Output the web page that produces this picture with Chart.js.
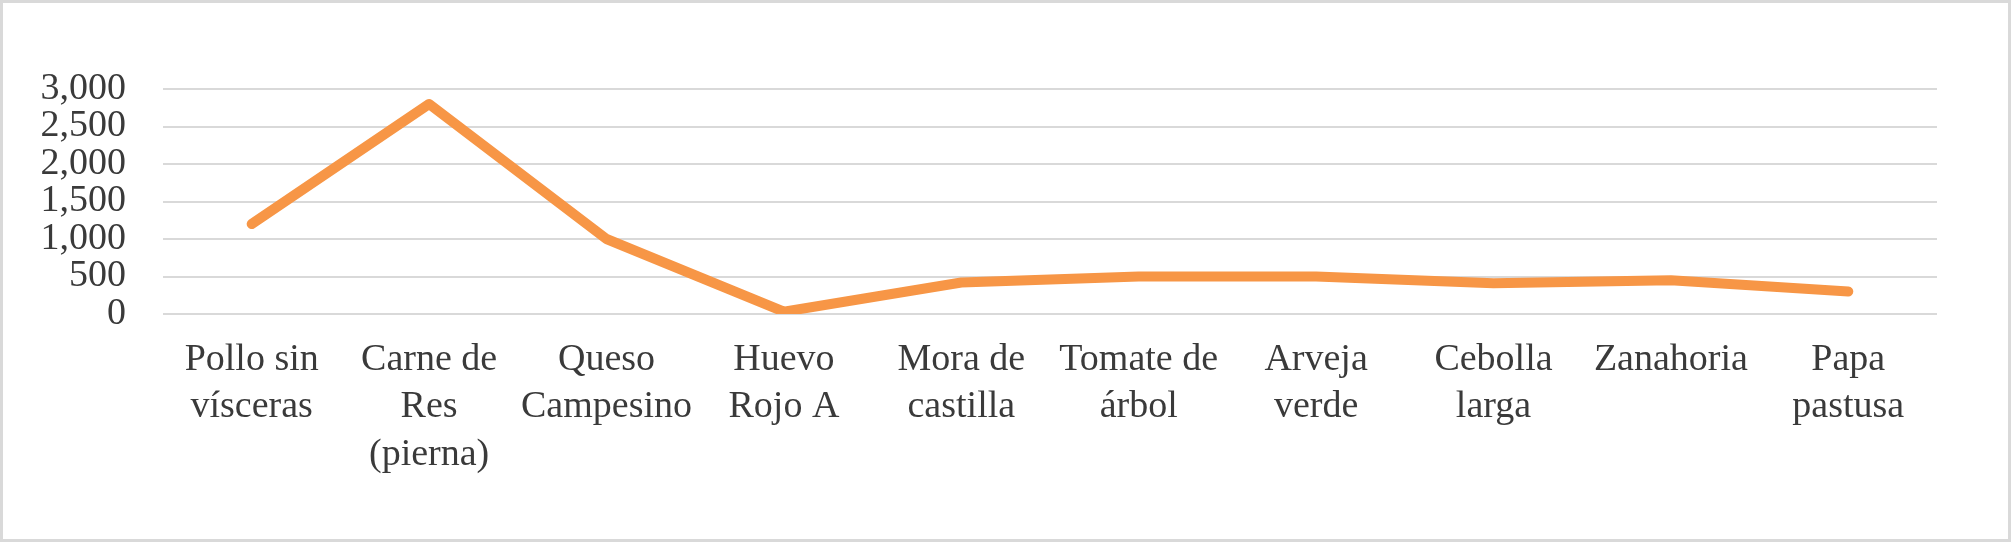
<!DOCTYPE html>
<html>
<head>
<meta charset="utf-8">
<script src="https://cdn.jsdelivr.net/npm/chart.js@4.4.1/dist/chart.umd.min.js"></script>
<style>
    html, body { margin: 0; padding: 0; background: #ffffff; }
    #frame {
        width: 2011px;
        height: 542px;
        box-sizing: border-box;
        border: 3px solid #d9d9d9;
        background: #ffffff;
    }
    #priceChart { display: block; }
</style>
</head>
<body>
<div id="frame">
    <canvas id="priceChart" width="2005" height="536"></canvas>
</div>
<script>
/** --------------------CHART DATA-------------------- */

const productLabels = [
    ['Pollo sin', 'vísceras'],
    ['Carne de', 'Res', '(pierna)'],
    ['Queso', 'Campesino'],
    ['Huevo', 'Rojo A'],
    ['Mora de', 'castilla'],
    ['Tomate de', 'árbol'],
    ['Arveja', 'verde'],
    ['Cebolla', 'larga'],
    'Zanahoria',
    ['Papa', 'pastusa']
];
const productValues = [1200, 2800, 1000, 30, 420, 500, 500, 410, 450, 300];
const yTicks = [0, 500, 1000, 1500, 2000, 2500, 3000];

/** --------------------DRAW CHART-------------------- */

const labelFont = {
    family: '"Liberation Serif", "Times New Roman", serif',
    size: 38,
    lineHeight: 1.25
};

const ctx = document.getElementById('priceChart').getContext('2d');
let lineChart = new Chart(ctx, {
    type: 'line',
    data: {
        labels: productLabels,
        datasets: [{
            label: 'Precio',
            data: productValues,
            borderColor: '#F79646',
            borderWidth: 10,
            borderCapStyle: 'round',
            borderJoinStyle: 'round',
            pointRadius: 0,
            pointHoverRadius: 0,
            tension: 0,
            fill: false
        }]
    },
    options: {
        responsive: false,
        animation: false,
        events: [],
        layout: {
            padding: {top: 86, right: 71, bottom: 0, left: 0}
        },
        plugins: {
            legend: {display: false},
            tooltip: {enabled: false}
        },
        scales: {
            x: {
                offset: true,
                grid: {display: false, drawTicks: false},
                border: {display: false},
                ticks: {
                    color: '#3a3a3a',
                    font: labelFont,
                    padding: 22,
                    maxRotation: 0,
                    autoSkip: false
                },
                afterFit: function (scale) {
                    scale.height = 225;
                }
            },
            y: {
                min: yTicks[0],
                max: yTicks[yTicks.length - 1],
                afterBuildTicks: function (scale) {
                    scale.ticks = yTicks.map(v => ({value: v}));
                },
                grid: {color: '#d9d9d9', lineWidth: 2, drawTicks: false},
                border: {display: false},
                ticks: {
                    color: '#3a3a3a',
                    font: labelFont,
                    padding: 37,
                    autoSkip: false,
                    callback: v => v.toLocaleString('en-US')
                },
                afterFit: function (scale) {
                    scale.width = 160;
                }
            }
        }
    }
});
</script>
</body>
</html>
